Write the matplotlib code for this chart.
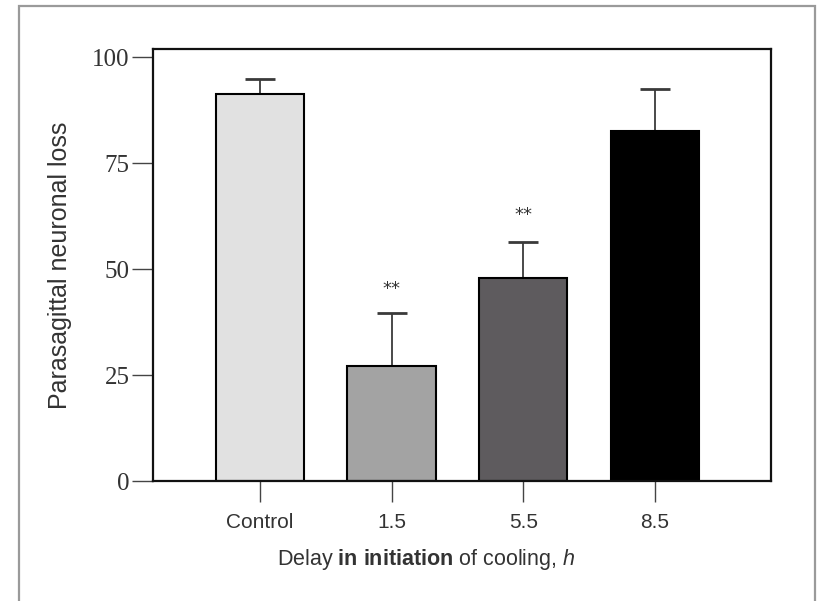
import matplotlib
matplotlib.use('Agg')
import matplotlib.pyplot as plt
from matplotlib.patches import Rectangle

plt.rcParams['font.family'] = ['Liberation Sans', 'DejaVu Sans']
plt.rcParams['mathtext.fontset'] = 'custom'
plt.rcParams['mathtext.rm'] = 'Liberation Sans'
plt.rcParams['mathtext.bf'] = 'Liberation Sans:bold'
plt.rcParams['mathtext.it'] = 'Liberation Sans:italic'

# data
groups = ['Control', '1.5', '5.5', '8.5']
loss = [91.3, 27.1, 47.9, 82.6]
err = [3.5, 12.6, 8.5, 9.8]
stars = ['', '**', '**', '']
star_y = [0, 45.3, 62.7, 0]
colors = ['#e1e1e1', '#a3a3a3', '#5e5b5e', '#000000']

fig = plt.figure(figsize=(8.17, 6.01), dpi=100)
fig.patch.set_facecolor('white')
# outer grey frame
fig.patches.append(Rectangle((19/817, -0.02), (815-19)/817, 1 - 6/601 + 0.02,
                             transform=fig.transFigure, fill=False,
                             edgecolor='#9a9a9a', linewidth=1.6))

ax = fig.add_axes([153/817, 120/601, (771-153)/817, (481-49)/601])
x = range(len(groups))
ax.bar(x, loss, width=0.67, color=colors, edgecolor='black', linewidth=1.5, zorder=2)
ax.errorbar(x, loss, yerr=[[0]*4, err], fmt='none', ecolor='#3a3a3a',
            elinewidth=1.3, capsize=11, capthick=2, zorder=1)
for i, s in enumerate(stars):
    if s:
        ax.text(i, star_y[i], s, ha='center', va='center', fontsize=13,
                color='#333333', family='DejaVu Sans')

ax.set_xlim(-0.81, 3.88)
ax.set_ylim(0, 101.9)
ax.set_yticks([0, 25, 50, 75, 100])
ax.set_yticklabels(['0', '25', '50', '75', '100'], family='Liberation Serif',
                   fontsize=18, color='#333333')
ax.set_xticks(list(x))
ax.set_xticklabels(groups, fontsize=15, color='#333333')
ax.tick_params(axis='both', direction='out', length=15, width=1.0,
               color='#444444', pad=2)
ax.tick_params(axis='x', pad=8)
for sp in ax.spines.values():
    sp.set_linewidth(1.6)
    sp.set_color('#111111')

ax.set_ylabel('Parasagittal neuronal loss', fontsize=18, color='#333333', labelpad=14)
fig.text(426/817, 1 - 560/601,
         r'Delay $\mathbf{in\ initiation}$ of cooling, $\mathit{h}$',
         fontsize=15.5, color='#333333', ha='center', va='center')

fig.savefig('out.png', dpi=100)
